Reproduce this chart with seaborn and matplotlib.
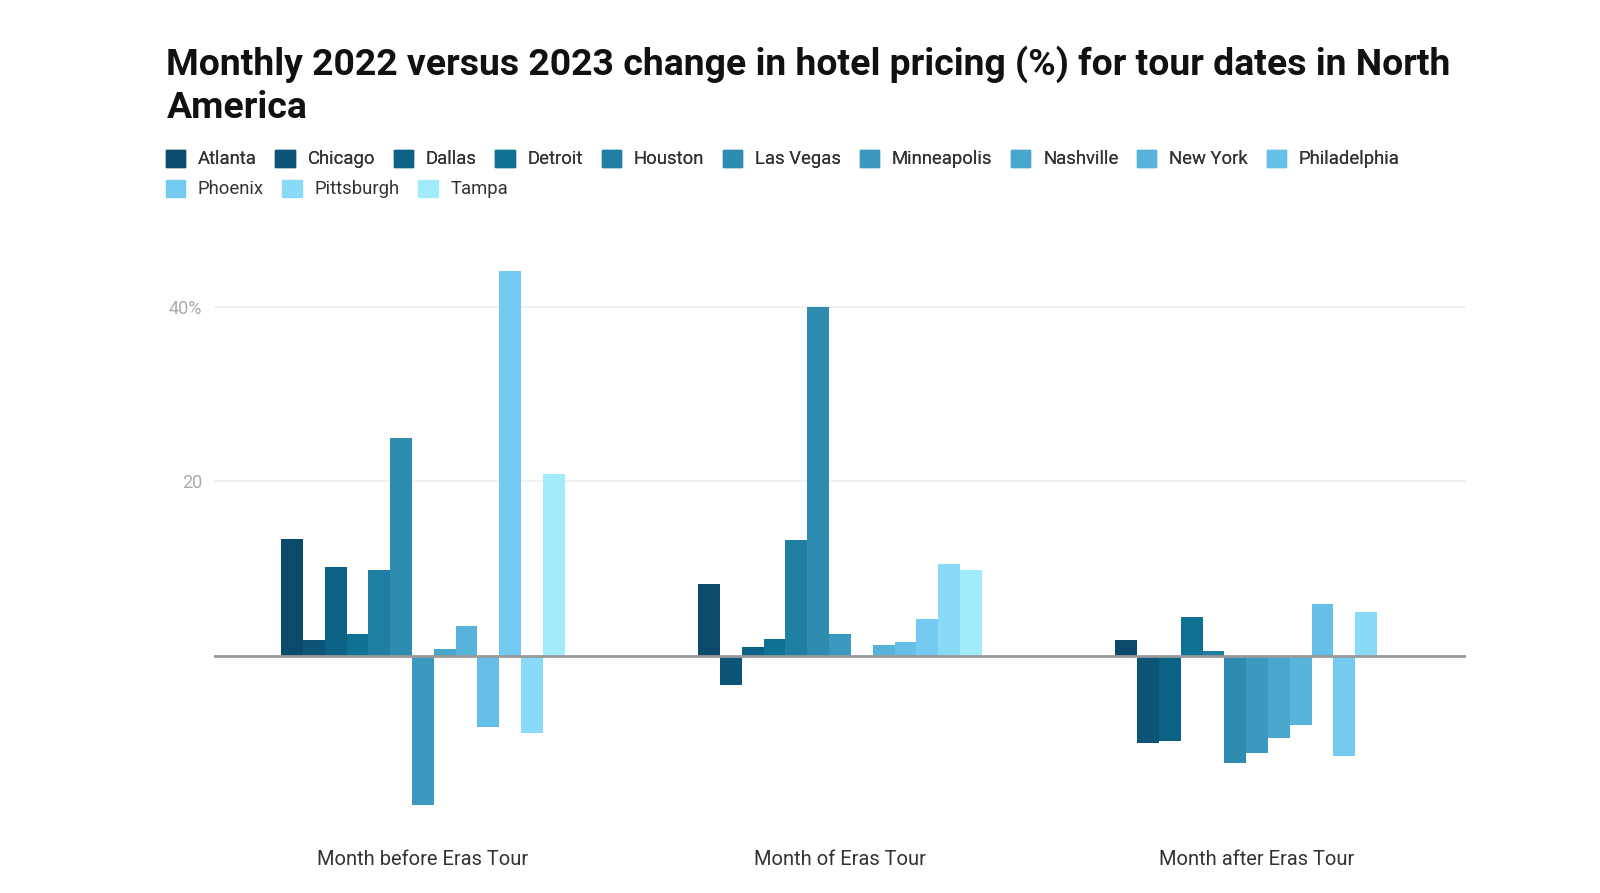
import pandas as pd
import numpy as np
import matplotlib.pyplot as plt
import matplotlib.patches as mpatches
import seaborn as sns

# --- data ---
periods = ['Month before Eras Tour', 'Month of Eras Tour', 'Month after Eras Tour']
cities = ['Atlanta', 'Chicago', 'Dallas', 'Detroit', 'Houston', 'Las Vegas', 'Minneapolis',
          'Nashville', 'New York', 'Philadelphia', 'Phoenix', 'Pittsburgh', 'Tampa']
before = [13.4, 1.9, 10.2, 2.5, 9.9, 25.0, -17.0, 0.8, 3.4, -8.1, 44.1, -8.8, 20.8]
during = [8.2, -3.3, 1.0, 2.0, 13.3, 40.0, 2.5, 0.0, 1.3, 1.6, 4.3, 10.5, 9.9]
after = [1.8, -9.9, -9.75, 4.5, 0.6, -12.2, -11.1, -9.4, -7.9, 6.0, -11.4, 5.0, 0.0]
colors = ['#0b4a6b', '#0c5577', '#0b6284', '#0f7193', '#1e7fa3', '#2e8cb0', '#3b99c0',
          '#49a6cd', '#58b3da', '#66bfe6', '#75caf1', '#89d9f9', '#a2ebfd']

rows = []
for period, vals in zip(periods, [before, during, after]):
    for c, v in zip(cities, vals):
        rows.append({'period': period, 'city': c, 'change': v})
df = pd.DataFrame(rows)

plt.rcParams['font.family'] = ['Roboto', 'DejaVu Sans']

fig = plt.figure(figsize=(16, 8.93), dpi=100)
ax = fig.add_axes([0.134, 0.0795, 0.782, 0.6405])

sns.barplot(data=df, x='period', y='change', hue='city', hue_order=cities,
            order=periods, palette=colors, width=0.68, saturation=1,
            edgecolor='none', linewidth=0, errorbar=None, ax=ax, legend=False)

ax.set_ylim(-19, 46.5)
ax.set_xlim(-0.5, 2.5)
ax.set_yticks([20, 40])
ax.set_yticklabels(['20', '40%'])
ax.grid(axis='y', color='#f0f0f0', linewidth=1.2)
ax.set_axisbelow(True)
ax.axhline(0, color='#999999', linewidth=2, zorder=5)
for s in ax.spines.values():
    s.set_visible(False)
ax.tick_params(axis='y', length=0, pad=9, labelsize=13, labelcolor='#aaaaaa')
ax.tick_params(axis='x', length=0, pad=20, labelsize=14.5, labelcolor='#333333')
ax.set_xlabel('')
ax.set_ylabel('')

fig.text(0.104, 0.949, 'Monthly 2022 versus 2023 change in hotel pricing (%) for tour dates in North\nAmerica',
         fontsize=26.9, fontweight='bold', color='#111111', ha='left', va='top', linespacing=1.25)

# legend in two rows (flow layout)
handles = [mpatches.Patch(color=c, label=n) for c, n in zip(colors, cities)]
leg_kw = dict(frameon=False, fontsize=13.3, handlelength=1.05, handleheight=1.05,
              handletextpad=0.7, columnspacing=1.0, borderaxespad=0, borderpad=0,
              labelcolor='#333333', loc='center left')
leg1 = fig.legend(handles=handles[:10], ncol=10, bbox_to_anchor=(0.1035, 1 - 159 / 893), **leg_kw)
fig.add_artist(leg1)
fig.legend(handles=handles[10:], ncol=3, bbox_to_anchor=(0.1035, 1 - 189 / 893), **leg_kw)

fig.savefig('out.png', dpi=100, facecolor='white')
